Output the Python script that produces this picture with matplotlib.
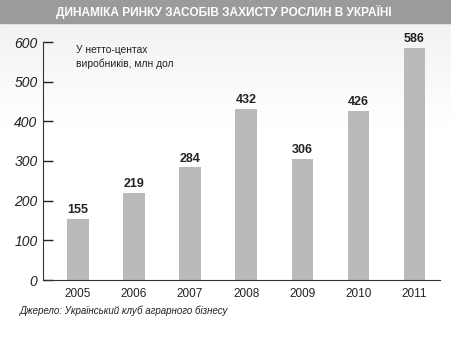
import numpy as np
from matplotlib import pyplot as plt

years = ['2005', '2006', '2007', '2008', '2009', '2010', '2011']
values = [155, 219, 284, 432, 306, 426, 586]
y_ticks = [0, 100, 200, 300, 400, 500, 600]

title = 'ДИНАМІКА РИНКУ ЗАСОБІВ ЗАХИСТУ РОСЛИН В УКРАЇНІ'
note = 'У нетто-центах\nвиробників, млн дол'
source = 'Джерело: Український клуб аграрного бізнесу'

plt.rcParams['font.family'] = ['Liberation Sans', 'DejaVu Sans']

fig = plt.figure(figsize=(4.51, 3.39), dpi=100)

# light gradient background under title bar
bg = fig.add_axes([0, 0, 1, 1], zorder=-10)
grad = np.clip((np.linspace(0, 1, 256) - 0.62) / 0.3, 0, 1).reshape(-1, 1)
bg.imshow(grad, aspect='auto', cmap='Greys', vmin=0, vmax=10,
          extent=[0, 1, 0, 1], origin='lower')
bg.set_xlim(0, 1)
bg.set_ylim(0, 1)
bg.axis('off')

# title bar
fig.patches.append(plt.Rectangle((0, 1 - 23 / 339), 1, 23 / 339, transform=fig.transFigure,
                                 color='#999b9d', zorder=0))
fig.text(0.497, 1 - 11.5 / 339, title, color='white', fontsize=8.6, fontweight='bold',
         ha='center', va='center')

ax = fig.add_axes([43 / 451, 1 - 280 / 339, (440 - 43) / 451, (280 - 42) / 339])
ax.patch.set_alpha(0)
x = np.arange(len(years))
ax.bar(x, values, width=0.38, color='#b9babc')
for xi, v in zip(x, values):
    ax.text(xi, v + 7, str(v), ha='center', va='bottom', fontsize=9, fontweight='bold',
            color='#222222')

ax.set_xlim(-0.625, 6.46)
ax.set_ylim(0, 600)
ax.set_xticks(x)
ax.set_xticklabels(years, fontsize=8.5)
ax.set_yticks(y_ticks)
ax.set_yticklabels([str(t) for t in y_ticks], fontsize=10, style='italic')
ax.tick_params(axis='y', direction='in', length=7, width=1, pad=4, colors='#222222')
ax.tick_params(axis='x', length=0, pad=6, colors='#222222')
for s in ['top', 'right']:
    ax.spines[s].set_visible(False)
ax.spines['left'].set_color('#333333')
ax.spines['bottom'].set_color('#333333')

ax.text(76 / 451, 1 - 45 / 339, note, transform=fig.transFigure, fontsize=7.4,
        ha='left', va='top', color='#222222', linespacing=1.4)
fig.text(20 / 451, 1 - 311 / 339, source, fontsize=7, style='italic', ha='left',
         va='center', color='#222222')

plt.savefig('out.png', dpi=100)
